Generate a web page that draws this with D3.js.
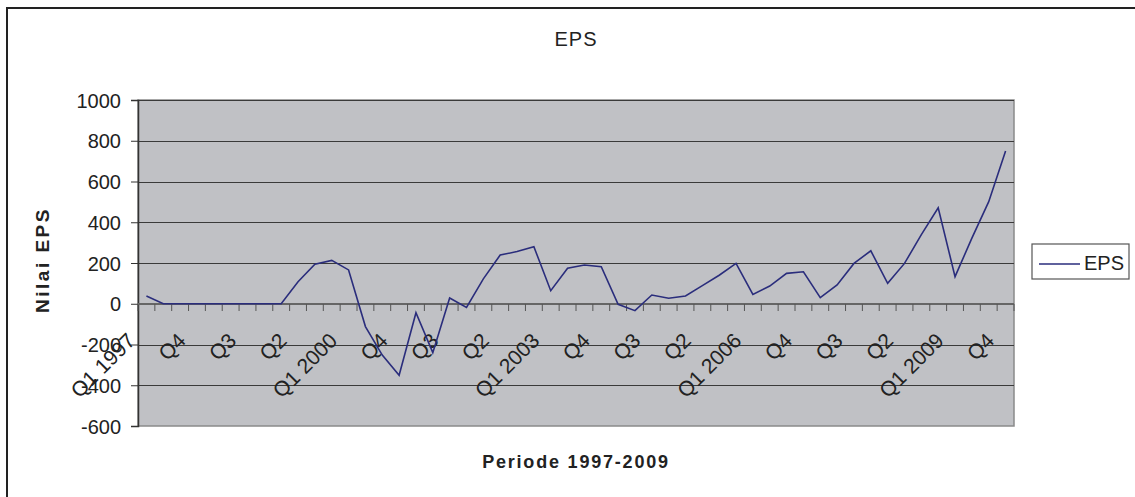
<!DOCTYPE html>
<html>
<head>
<meta charset="utf-8">
<script src="https://cdn.jsdelivr.net/npm/d3@7"></script>
<style>
  body { margin: 0; background: #fff; }
  svg { display: block; font-family: "Liberation Sans", Arial, sans-serif; }
  .axis text { font-size: 20px; fill: #222; }
</style>
</head>
<body>
<svg width="1135" height="497"></svg>
<script>
// quarterly EPS, Q1 1997 .. Q4 2009
var years = d3.range(1997, 2010);
var quarters = ["Q1", "Q2", "Q3", "Q4"];
var eps = [38, 0, 0, 0, 0, 0, 0, 0, 0, 108, 194, 213,
           166, -112, -252, -351, -44, -240, 28, -18, 122, 239, 256, 280,
           64, 174, 190, 182, -3, -34, 43, 27, 38, 89, 140, 198,
           46, 87, 149, 157, 30, 92, 198, 260, 100, 198, 339, 471,
           133, 322, 501, 750];
var yTicks = [-600, -400, -200, 0, 200, 400, 600, 800, 1000];

var periods = [];
years.forEach(function(yr) {
    quarters.forEach(function(q) { periods.push(q + " " + yr); });
});
var data = periods.map(function(p, i) { return {period: p, value: eps[i]}; });

// label every third quarter, year only shown on Q1
function tickLabel(p, i) {
    if (i % 3 != 0) return "";
    return p.indexOf("Q1") == 0 ? p : p.split(" ")[0];
}

var svg = d3.select("svg"),
    margin = {top: 100, right: 121, bottom: 71, left: 138},
    width = +svg.attr("width") - margin.left - margin.right,
    height = +svg.attr("height") - margin.top - margin.bottom,
    g = svg.append("g").attr("transform", "translate(" + margin.left + "," + margin.top + ")");

// outer frame (runs off the right and bottom edges)
svg.append("path")
    .attr("d", "M7,497V8H1135")
    .attr("fill", "none")
    .attr("stroke", "#222")
    .attr("stroke-width", 2);

var x = d3.scaleBand()
    .domain(periods)
    .range([0, width])
    .paddingInner(0)
    .paddingOuter(0);

var y = d3.scaleLinear()
    .domain([-600, 1000])
    .range([height, 0]);

g.append("rect")
    .attr("width", width)
    .attr("height", height)
    .attr("fill", "#c0c1c5")
    .attr("stroke", "#8a8a8a")
    .attr("stroke-width", 1.5);

// gridlines
g.append("g")
    .selectAll("line")
    .data(yTicks.filter(function(d) { return d != -600 && d != 0; }))
    .enter().append("line")
    .attr("x1", 0)
    .attr("x2", width)
    .attr("y1", function(d) { return Math.round(y(d)) + 0.5; })
    .attr("y2", function(d) { return Math.round(y(d)) + 0.5; })
    .attr("stroke", "#3a3a3a")
    .attr("stroke-width", 1);

// y axis
var yAxis = g.append("g")
    .attr("class", "axis axis--y")
    .call(d3.axisLeft(y).tickValues(yTicks).tickFormat(function(d) { return String(d); })
        .tickSize(7).tickPadding(10));
yAxis.select(".domain").attr("stroke", "#333").attr("stroke-width", 1.5);
yAxis.selectAll(".tick line").attr("stroke", "#333");
yAxis.selectAll("text").attr("dy", "0.36em");

// x axis sits on zero, ticks between categories
var xAxis = g.append("g")
    .attr("class", "axis axis--x")
    .attr("transform", "translate(0," + Math.round(y(0)) + ")");
xAxis.append("line")
    .attr("x1", 0).attr("x2", width)
    .attr("stroke", "#666").attr("stroke-width", 2);
xAxis.selectAll(".tk")
    .data(periods.concat(["end"]))
    .enter().append("line")
    .attr("class", "tk")
    .attr("x1", function(d, i) { return i * x.bandwidth(); })
    .attr("x2", function(d, i) { return i * x.bandwidth(); })
    .attr("y1", 0)
    .attr("y2", 7)
    .attr("stroke", "#555");
xAxis.selectAll(".lbl")
    .data(periods)
    .enter().append("text")
    .attr("class", "lbl")
    .attr("text-anchor", "end")
    .style("font-size", "21px")
    .attr("transform", function(d) {
        return "translate(" + (x(d) + x.bandwidth() / 2 - 10) + ",38) rotate(-45)";
    })
    .text(tickLabel);

// the EPS line
var line = d3.line()
    .x(function(d) { return x(d.period) + x.bandwidth() / 2; })
    .y(function(d) { return y(d.value); });

g.append("path")
    .datum(data)
    .attr("fill", "none")
    .attr("stroke", "#2a2d7c")
    .attr("stroke-width", 1.6)
    .attr("d", line);

// titles
svg.append("text")
    .attr("x", margin.left + width / 2)
    .attr("y", 46)
    .attr("text-anchor", "middle")
    .style("font-size", "20px")
    .style("letter-spacing", "1px")
    .attr("fill", "#222")
    .text("EPS");

svg.append("text")
    .attr("x", margin.left + width / 2)
    .attr("y", 468)
    .attr("text-anchor", "middle")
    .style("font-size", "18px")
    .style("font-weight", "bold")
    .style("letter-spacing", "1.8px")
    .attr("fill", "#222")
    .text("Periode 1997-2009");

svg.append("text")
    .attr("transform", "translate(49," + (margin.top + height / 2 - 3) + ") rotate(-90)")
    .attr("text-anchor", "middle")
    .style("font-size", "19px")
    .style("font-weight", "bold")
    .style("letter-spacing", "2.5px")
    .attr("fill", "#222")
    .text("Nilai EPS");

// legend
var legend = svg.append("g").attr("transform", "translate(1032,244)");
legend.append("rect")
    .attr("width", 97)
    .attr("height", 35)
    .attr("fill", "#fff")
    .attr("stroke", "#555")
    .attr("stroke-width", 1.2);
legend.append("line")
    .attr("x1", 7).attr("x2", 48)
    .attr("y1", 20).attr("y2", 20)
    .attr("stroke", "#2a2d7c")
    .attr("stroke-width", 1.6);
legend.append("text")
    .attr("x", 52)
    .attr("y", 26)
    .style("font-size", "20px")
    .attr("fill", "#222")
    .text("EPS");
</script>
</body>
</html>
